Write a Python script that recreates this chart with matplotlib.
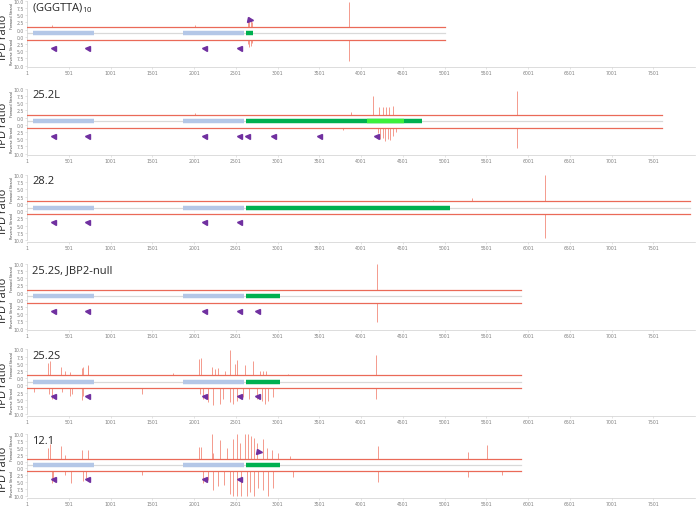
import matplotlib
matplotlib.use('Agg')
import matplotlib.pyplot as plt

# ── Data ────────────────────────────────────────────────────
TITLES     = [r'(GGGTTA)$_{\mathregular{10}}$', '25.2L', '28.2',
              '25.2S, JBP2-null', '25.2S', '12.1']
SEQ_ENDS   = [5010, 7608, 7940, 5916, 5916, 5916]
GREEN_ENDS = [2703, 4727, 5066, 3030, 3030, 3036]
BLUE_BARS  = [(76, 806), (1873, 2603)]
GREEN_START = 2623
LIGHT_GREEN = (4069, 4519)          # only in 25.2L

TICKS_X = [1, 501, 1001, 1501, 2001, 2501, 3001, 3501,
           4001, 4501, 5001, 5501, 6001, 6501, 7001, 7501]

# left-pointing primers under the reverse strand
PRIMERS_L = [
    [307, 715, 2120, 2540],
    [307, 715, 2120, 2543, 2640, 2950, 3497, 4180],
    [307, 715, 2120, 2540],
    [307, 715, 2120, 2540, 2751],
    [307, 715, 2120, 2540, 2751],
    [307, 715, 2120, 2540],
]
# right-pointing primers above the forward strand
PRIMERS_R = [[2671], [], [], [], [], [2784]]

# IPD ratio peaks: (position, ratio)
FWD_GGGTTA = [(300, 1.6), (2010, 1.7), (2650, 3.0), (2665, 4.2),
              (2680, 3.5), (2695, 2.8), (3860, 9.5)]
REV_GGGTTA = [(2650, 2.5), (2665, 3.6), (2680, 3.2), (2700, 2.2),
              (3860, 8.5)]

FWD_252L = [(2010, 1.6), (3876, 2.0), (4148, 7.6), (4219, 3.8),
            (4260, 3.6), (4299, 3.5), (4339, 3.6), (4380, 4.0),
            (5872, 9.3)]
REV_252L = [(3790, 1.8), (4200, 3.0), (4230, 5.0), (4260, 4.5),
            (4290, 5.5), (4320, 4.8), (4350, 5.2), (4380, 4.0),
            (4420, 2.5), (5872, 8.0)]

FWD_282 = [(4860, 1.5), (5330, 1.9), (6204, 10.0)]
REV_282 = [(6204, 9.3)]

FWD_JBP2 = [(4190, 9.8)]
REV_JBP2 = [(4190, 7.7)]

FWD_252S = [(255, 5.3), (275, 5.9), (407, 3.8), (455, 2.4), (515, 2.1),
            (655, 3.4), (675, 3.8), (726, 4.6), (735, 4.1), (1752, 1.7),
            (2056, 6.7), (2080, 7.0), (2215, 4.0), (2251, 3.2),
            (2291, 3.4), (2371, 2.6), (2431, 9.8), (2491, 4.9),
            (2519, 6.4), (2611, 4.4), (2711, 6.1), (2790, 2.6),
            (2822, 2.6), (2862, 2.6), (3130, 1.5), (4176, 8.1)]
REV_252S = [(80, 2.2), (267, 3.0), (295, 4.7), (415, 2.4), (515, 3.6),
            (535, 3.0), (655, 4.9), (675, 3.6), (1373, 3.0),
            (2072, 3.0), (2112, 4.7), (2172, 5.9), (2232, 6.8),
            (2311, 6.4), (2343, 4.7), (2431, 5.9), (2471, 6.4),
            (2511, 5.3), (2591, 4.1), (2663, 4.7), (2751, 4.7),
            (2810, 5.3), (2850, 6.4), (2890, 5.3), (2942, 4.1),
            (4176, 4.7)]

FWD_121 = [(255, 4.8), (275, 6.2), (407, 5.6), (455, 2.5), (655, 4.3),
           (735, 4.3), (2056, 5.2), (2084, 5.4), (2215, 10.0),
           (2231, 3.1), (2311, 7.9), (2391, 4.8), (2471, 8.3),
           (2519, 10.0), (2551, 6.6), (2611, 10.0), (2651, 10.0),
           (2679, 9.4), (2719, 8.6), (2751, 6.6), (2830, 8.3),
           (2870, 4.8), (2930, 4.3), (3010, 3.1), (3150, 2.0),
           (4200, 5.6), (5285, 3.3), (5505, 6.0)]
REV_121 = [(295, 5.4), (315, 3.5), (455, 2.5), (527, 5.4), (667, 4.6),
           (707, 3.6), (1373, 2.5), (2112, 5.4), (2172, 4.2),
           (2232, 7.7), (2291, 6.5), (2359, 5.9), (2431, 9.4),
           (2471, 10.0), (2519, 10.0), (2559, 10.0), (2631, 10.0),
           (2671, 8.5), (2719, 10.0), (2771, 7.0), (2830, 8.0),
           (2890, 10.0), (2950, 7.0), (3190, 3.0), (4200, 5.1),
           (5285, 3.1), (5690, 2.5)]

FWD_PEAKS = [FWD_GGGTTA, FWD_252L, FWD_282, FWD_JBP2, FWD_252S, FWD_121]
REV_PEAKS = [REV_GGGTTA, REV_252L, REV_282, REV_JBP2, REV_252S, REV_121]

# ── Styling ────────────────────────────────────────────────
TRACE  = '#ea6a58'
PEAK   = '#f28b7b'
BLUE   = '#b4c7e7'
GREEN  = '#00b050'
LGREEN = '#3cf03c'
PURPLE = '#7030a0'
MIDGRAY = '#d9d9d9'
AXGRAY = '#cfcfcf'
LABGRAY = '#7f7f7f'

W, H = 696, 510
PANEL_TOPS  = [1.7, 89.7, 176.0, 264.7, 350.3, 435.0]
PANEL_SPANS = [65, 65, 65, 65, 65, 62]   # px from upper 10.0 to lower 10.0
X_LEFT, X_RIGHT = 27, 695
GAP = 1.25                 # half gap between the two strands (data units)
Y_TOP, Y_BOT = 11.45, -11.8
BASE = 1.0

fig = plt.figure(figsize=(W / 100, H / 100), dpi=100)

for i in range(6):
    ppu = PANEL_SPANS[i] / (2 * (GAP + 10))
    top = PANEL_TOPS[i] - (Y_TOP - (GAP + 10)) * ppu
    hgt = (Y_TOP - Y_BOT) * ppu
    ax = fig.add_axes([X_LEFT / W, 1 - (top + hgt) / H,
                       (X_RIGHT - X_LEFT) / W, hgt / H])
    ax.set_xlim(1, 8000)
    ax.set_ylim(Y_BOT, Y_TOP)
    end = SEQ_ENDS[i]

    # middle gray line and annotation bars
    ax.plot([1, end], [0, 0], color=MIDGRAY, lw=0.9, zorder=1)
    for s, e in BLUE_BARS:
        ax.plot([s, e], [0, 0], color=BLUE, lw=3.2,
                solid_capstyle='butt', zorder=2)
    ax.plot([GREEN_START, GREEN_ENDS[i]], [0, 0], color=GREEN, lw=3.2,
            solid_capstyle='butt', zorder=2)
    if i == 1:
        ax.plot(LIGHT_GREEN, [0, 0], color=LGREEN, lw=3.2,
                solid_capstyle='butt', zorder=3)

    # peaks
    fp = FWD_PEAKS[i]
    rp = REV_PEAKS[i]
    ax.vlines([p for p, _ in fp], GAP + BASE, [GAP + h for _, h in fp],
              color=PEAK, lw=0.6, zorder=3)
    ax.vlines([p for p, _ in rp], -(GAP + BASE), [-(GAP + h) for _, h in rp],
              color=PEAK, lw=0.6, zorder=3)

    # baseline traces
    ax.plot([1, end], [GAP + BASE] * 2, color=TRACE, lw=0.9, zorder=4)
    ax.plot([1, end], [-(GAP + BASE)] * 2, color=TRACE, lw=0.9, zorder=4)

    # primers
    ax.plot(PRIMERS_L[i], [-(GAP + 3.7)] * len(PRIMERS_L[i]), ls='none',
            marker='<', ms=3.6, color=PURPLE, mec=PURPLE, zorder=5)
    if PRIMERS_R[i]:
        ax.plot(PRIMERS_R[i], [GAP + 3.4] * len(PRIMERS_R[i]), ls='none',
                marker='>', ms=3.6, color=PURPLE, mec=PURPLE, zorder=5)

    # axes cosmetics
    vals = [0, 2.5, 5, 7.5, 10]
    yt = [GAP + v for v in vals] + [-(GAP + v) for v in vals]
    ax.set_yticks(yt)
    ax.set_yticklabels([f'{v:.1f}' for v in vals] * 2)
    ax.set_xticks(TICKS_X)
    ax.set_xticklabels([str(t) for t in TICKS_X])
    ax.tick_params(axis='both', labelsize=3.3, labelcolor=LABGRAY,
                   color=AXGRAY, width=0.4, length=1.2, pad=1.0)
    for sp in ('top', 'right'):
        ax.spines[sp].set_visible(False)
    for sp in ('left', 'bottom'):
        ax.spines[sp].set_color(AXGRAY)
        ax.spines[sp].set_linewidth(0.5)
    ax.spines['left'].set_bounds(-(GAP + 10), GAP + 10)
    ax.patch.set_alpha(0)

    # title and side labels
    T = PANEL_TOPS[i]
    mid = T + PANEL_SPANS[i] / 2
    fig.text(32 / W, 1 - (T + 6) / H, TITLES[i], fontsize=8,
             family='Open Sans', color='#262626', va='center', ha='left')
    fig.text(4 / W, 1 - (mid + 3) / H, 'IPD ratio', fontsize=8,
             family='Open Sans', color='#262626', rotation=90,
             va='center', ha='center')
    fig.text(11.8 / W, 1 - (mid - 18) / H, 'Forward Strand', fontsize=2.4,
             color='#404040', rotation=90, va='center', ha='center')
    fig.text(11.8 / W, 1 - (mid + 18) / H, 'Reverse Strand', fontsize=2.4,
             color='#404040', rotation=90, va='center', ha='center')

fig.savefig('out.png', dpi=100)
